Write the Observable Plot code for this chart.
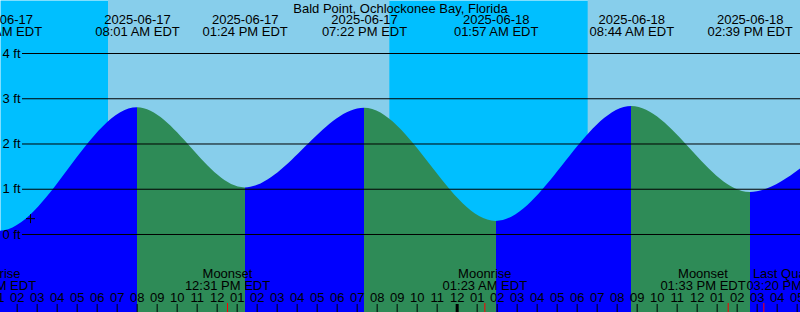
<!DOCTYPE html>
<html>
<head>
<meta charset="utf-8">
<script src="https://cdn.jsdelivr.net/npm/d3@7"></script>
<script src="https://cdn.jsdelivr.net/npm/@observablehq/plot@0.6"></script>
<style>
  html, body { margin: 0; padding: 0; background: #fff; overflow: hidden; }
  #chart svg { display: block; overflow: hidden; }
</style>
</head>
<body>
<div id="chart"></div>
<script>
// ---------- data ----------
const title = "Bald Point, Ochlockonee Bay, Florida";
const viewStart = "2025-06-17 01:10";
const viewEnd = "2025-06-18 17:10";

// tide extremes (EDT clock time), heights in ft
const tideTimes = [
  "2025-06-16 18:50", "2025-06-17 01:08", "2025-06-17 08:01", "2025-06-17 13:24",
  "2025-06-17 19:22", "2025-06-18 01:57", "2025-06-18 08:44", "2025-06-18 14:39",
  "2025-06-18 20:40", "2025-06-19 02:50"
];
const tideHeights = [2.65, 0.07, 2.80, 1.03, 2.79, 0.29, 2.83, 0.93, 2.30, 0.60];

const sunriseTimes = ["2025-06-17 06:34", "2025-06-18 06:33"];
const sunsetTimes = ["2025-06-16 20:38", "2025-06-17 20:38", "2025-06-18 20:38"];

const moonNames = ["Moonrise", "Moonset", "Moonrise", "Moonset"];
const moonTimes = ["2025-06-17 00:50", "2025-06-17 12:31", "2025-06-18 01:23", "2025-06-18 13:33"];
const phaseNames = ["Last Quarter"];
const phaseTimes = ["2025-06-18 15:20"];

const depthLevels = [0, 1, 2, 3, 4];
const markTimes = ["2025-06-17 02:40"];
const markHeights = [0.35];

// ---------- styling ----------
const W = 800, H = 312;
const nightColor = "#00BFFF", dayColor = "#87CEEB";
const risingColor = "#0000FF", fallingColor = "#2E8B57";
const font = "'Liberation Sans', Arial, Helvetica, sans-serif";
const yMin = -1.7238, yMax = 5.1713;
const labelGap = 86; // minimum spacing between bottom event labels (px)

// ---------- derived tables ----------
const parse = d3.utcParse("%Y-%m-%d %H:%M");
const fmtDate = d3.utcFormat("%Y-%m-%d");
const fmtTime = d3.utcFormat("%I:%M %p EDT");
const x0 = parse(viewStart), x1 = parse(viewEnd);
const xScale = Plot.scale({x: {type: "utc", domain: [x0, x1], range: [0, W]}});

const tide = tideTimes.map((t, i) => ({time: parse(t), height: tideHeights[i]}));
const tideLabels = tide.filter(d => d.time >= d3.utcHour.offset(x0, -1) && d.time <= d3.utcHour.offset(x1, 1));
const days = sunriseTimes.map((r, i) => ({start: parse(r), end: parse(sunsetTimes[i + 1])}));
const events = [
  ...moonTimes.map((t, i) => ({time: parse(t), name: moonNames[i]})),
  ...phaseTimes.map((t, i) => ({time: parse(t), name: phaseNames[i]}))
].sort((a, b) => a.time - b.time);
// push crowded labels apart (as the reference does)
const px = events.map(d => xScale.apply(d.time));
for (let i = 1; i < px.length; ++i) {
  const gap = px[i] - px[i - 1];
  if (gap < labelGap) { const s = (labelGap - gap) / 2; px[i - 1] -= s; px[i] += s; }
}
events.forEach((d, i) => { d.labelTime = xScale.invert(px[i]); });
const hours = d3.utcHour.range(d3.utcHour.floor(x0), d3.utcHour.offset(x1, 1));
const marks = markTimes.map((t, i) => ({time: parse(t), height: markHeights[i]}));

const svg = Plot.plot({
  width: W,
  height: H,
  margin: 0,
  style: {background: "transparent", fontFamily: font, fontSize: "13px", color: "black"},
  x: {type: "utc", domain: [x0, x1], axis: null},
  y: {domain: [yMin, yMax], axis: null},
  marks: [
    Plot.frame({fill: nightColor, stroke: null}),
    Plot.rect(days, {x1: "start", x2: "end", fill: dayColor}),
    Plot.areaY(tide, {x: "time", y1: yMin, y2: "height", curve: "monotone-x", fill: "url(#tideFill)"}),
    Plot.ruleY(depthLevels, {y: d => d, stroke: "black", strokeWidth: 1, insetLeft: 22}),
    Plot.text(depthLevels, {y: d => d, text: d => `${d} ft`, frameAnchor: "left", textAnchor: "start", dx: 2, fill: "black", fontSize: 13, fontFamily: font}),
    Plot.dot(marks, {x: "time", y: "height", symbol: "plus", r: 3, stroke: "black", strokeWidth: 1}),
    Plot.text([title], {text: d => d, frameAnchor: "top", lineAnchor: "top", dy: 2.8, fill: "black", fontSize: 13, fontFamily: font}),
    Plot.text(tideLabels, {x: "time", text: d => fmtDate(d.time) + "\n" + fmtTime(d.time), frameAnchor: "top", lineAnchor: "top", dy: 14.2, lineHeight: 0.96, fill: "black", fontSize: 13, fontFamily: font}),
    Plot.text(events, {x: "labelTime", text: d => d.name + "\n" + fmtTime(d.time), frameAnchor: "bottom", lineAnchor: "top", dy: -43.6, lineHeight: 0.96, fill: "black", fontSize: 13, fontFamily: font}),
    Plot.text(hours, {x: d => d, text: d => d3.utcFormat("%I")(d), frameAnchor: "bottom", lineAnchor: "top", dy: -19.4, fill: "black", fontSize: 13, fontFamily: font}),
    Plot.ruleX(hours, {x: d => d, stroke: "black", strokeWidth: d => (d.getUTCHours() === 0 ? 3 : 1), insetTop: H - 8}),
    Plot.ruleX(events, {x: "time", stroke: "#FF0000", strokeWidth: 1, insetTop: H - 9})
  ]
});

// rising / falling fill: hard-stop gradient positioned with the plot's own x scale
const xs = svg.scale("x");
const grad = d3.select(svg).insert("defs", ":first-child")
  .append("linearGradient")
  .attr("id", "tideFill")
  .attr("gradientUnits", "userSpaceOnUse")
  .attr("x1", 0).attr("x2", W).attr("y1", 0).attr("y2", 0);
for (let i = 0; i < tide.length - 1; ++i) {
  const c = tide[i + 1].height > tide[i].height ? risingColor : fallingColor;
  const a = Math.max(0, Math.min(1, xs.apply(tide[i].time) / W));
  const b = Math.max(0, Math.min(1, xs.apply(tide[i + 1].time) / W));
  grad.append("stop").attr("offset", a).attr("stop-color", c);
  grad.append("stop").attr("offset", b).attr("stop-color", c);
}

document.getElementById("chart").appendChild(svg);
</script>
</body>
</html>
